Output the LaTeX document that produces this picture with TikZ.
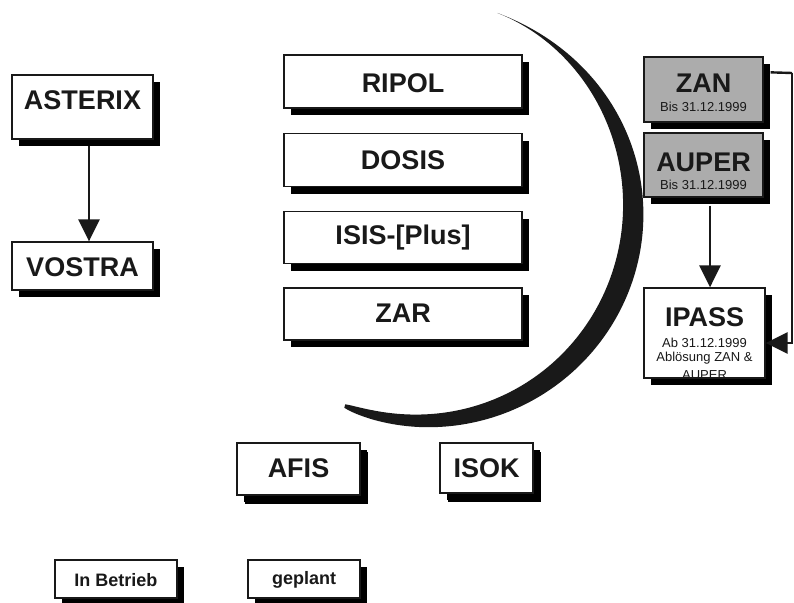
\documentclass[tikz,border=0pt]{standalone}
\usepackage{fontspec}
\setmainfont{Liberation Sans}
\usetikzlibrary{arrows.meta,shadows,calc}
\definecolor{boxgray}{RGB}{172,172,172}
\definecolor{ink}{RGB}{25,25,25}
\begin{document}
\begin{tikzpicture}[x=1pt,y=-1pt,
  declare function={thk(\s)=22*(sin(180*\s))^(1.62-1.2*\s);
    crx(\s,\r)=422.4+\r*cos(69.9-182.3*\s);
    cry(\s,\r)=210-\r*sin(69.9-182.3*\s);},
  box/.style={draw=ink,line width=1.3pt,fill=white,inner sep=0pt,
    drop shadow={shadow xshift=7pt,shadow yshift=-7pt,fill=black,opacity=1}},
  lowbox/.style={box,drop shadow={shadow xshift=8pt,shadow yshift=-9pt,fill=black,opacity=1}},
  graybox/.style={box,fill=boxgray},
  big/.style={inner sep=0pt,text=ink,font=\bfseries\fontsize{27}{30}\selectfont},
  small/.style={inner sep=0pt,text=ink,font=\fontsize{13}{15}\selectfont},
  legend/.style={inner sep=0pt,text=ink,font=\bfseries\fontsize{18}{20}\selectfont},
  arr/.style={line width=2.6pt,draw=ink,-{Triangle[width=21pt,length=22pt]}},
  link/.style={line width=2.4pt,draw=ink}]
\useasboundingbox (0,0) rectangle (794,602);

% crescent
\fill[ink] plot[domain=0.004:0.996,samples=150,variable=\s]
    ({crx(\s,210.8+0.5*thk(\s))},{cry(\s,210.8+0.5*thk(\s))})
  -- plot[domain=0.996:0.004,samples=150,variable=\s]
    ({crx(\s,210.8-0.5*thk(\s))},{cry(\s,210.8-0.5*thk(\s))}) -- cycle;

% left column
\node[box,minimum width=141,minimum height=64] (asterix) at (82.5,107) {};
\node[big] (asterixT) at (82.5,100) {ASTERIX};
\node[box,minimum width=141,minimum height=48] (vostra) at (82.5,266) {};
\node[big] (vostraT) at (82.5,267) {VOSTRA};
\draw[arr] ($(asterix.south)+(6.5,6)$) -- ($(vostra.north)+(6.5,0)$);

% middle column
\node[box,minimum width=238,minimum height=53] (ripol) at (403,81.5) {};
\node[big] (ripolT) at (403,83) {RIPOL};
\node[box,minimum width=238,minimum height=53] (dosis) at (403,160) {};
\node[big] (dosisT) at (403,160) {DOSIS};
\node[box,minimum width=238,minimum height=52] (isis) at (403,237.5) {};
\node[big] (isisT) at (403,238) {ISIS-[Plus]};
\node[box,minimum width=238,minimum height=52] (zar) at (403,314) {};
\node[big] (zarT) at (403,313) {ZAR};

% right column
\node[graybox,minimum width=119,minimum height=65] (zan) at (703.5,89.5) {};
\node[big] (zanT) at (703.5,83) {ZAN};
\node[small] (zanS) at (703.5,107) {Bis 31.12.1999};
\node[graybox,minimum width=119,minimum height=64] (auper) at (703.5,165) {};
\node[big] (auperT) at (703.5,162) {AUPER};
\node[small] (auperS) at (703.5,185) {Bis 31.12.1999};
\node[box,minimum width=121,minimum height=90] (ipass) at (704.5,333) {};
\begin{scope}
  \clip ($(ipass.north west)+(1,1)$) rectangle ($(ipass.south east)+(-1,-1)$);
  \node[small] (ipassA) at (704.5,343) {Ab 31.12.1999};
  \node[small] (ipassB) at (704.5,358) {Ablösung ZAN \&};
  \node[small] (ipassC) at (704.5,375) {AUPER};
\end{scope}
\node[big] (ipassT) at (704.5,317) {IPASS};
\draw[arr] ($(auper.south)+(6.5,8)$) -- (ipass.north -| {$(auper.south)+(6.5,8)$});
\coordinate (rc) at (792,73);
\draw[link] ($(zan.north east)+(7,16)$) -- (rc);
\draw[arr] (rc) |- ($(ipass.east)+(0,10)$);

% bottom
\node[lowbox,minimum width=123,minimum height=52] (afis) at (298.5,469) {};
\node[big] (afisT) at (298.5,468) {AFIS};
\node[lowbox,minimum width=93,minimum height=50] (isok) at (486.5,468) {};
\node[big] (isokT) at (486.5,468) {ISOK};

% legend
\node[box,minimum width=122,minimum height=38] (betrieb) at (116,579) {};
\node[legend] (betriebT) at (116,580) {In Betrieb};
\node[box,minimum width=112,minimum height=38] (geplant) at (304,579) {};
\node[legend] (geplantT) at (304,580) {geplant};
\end{tikzpicture}
\end{document}
